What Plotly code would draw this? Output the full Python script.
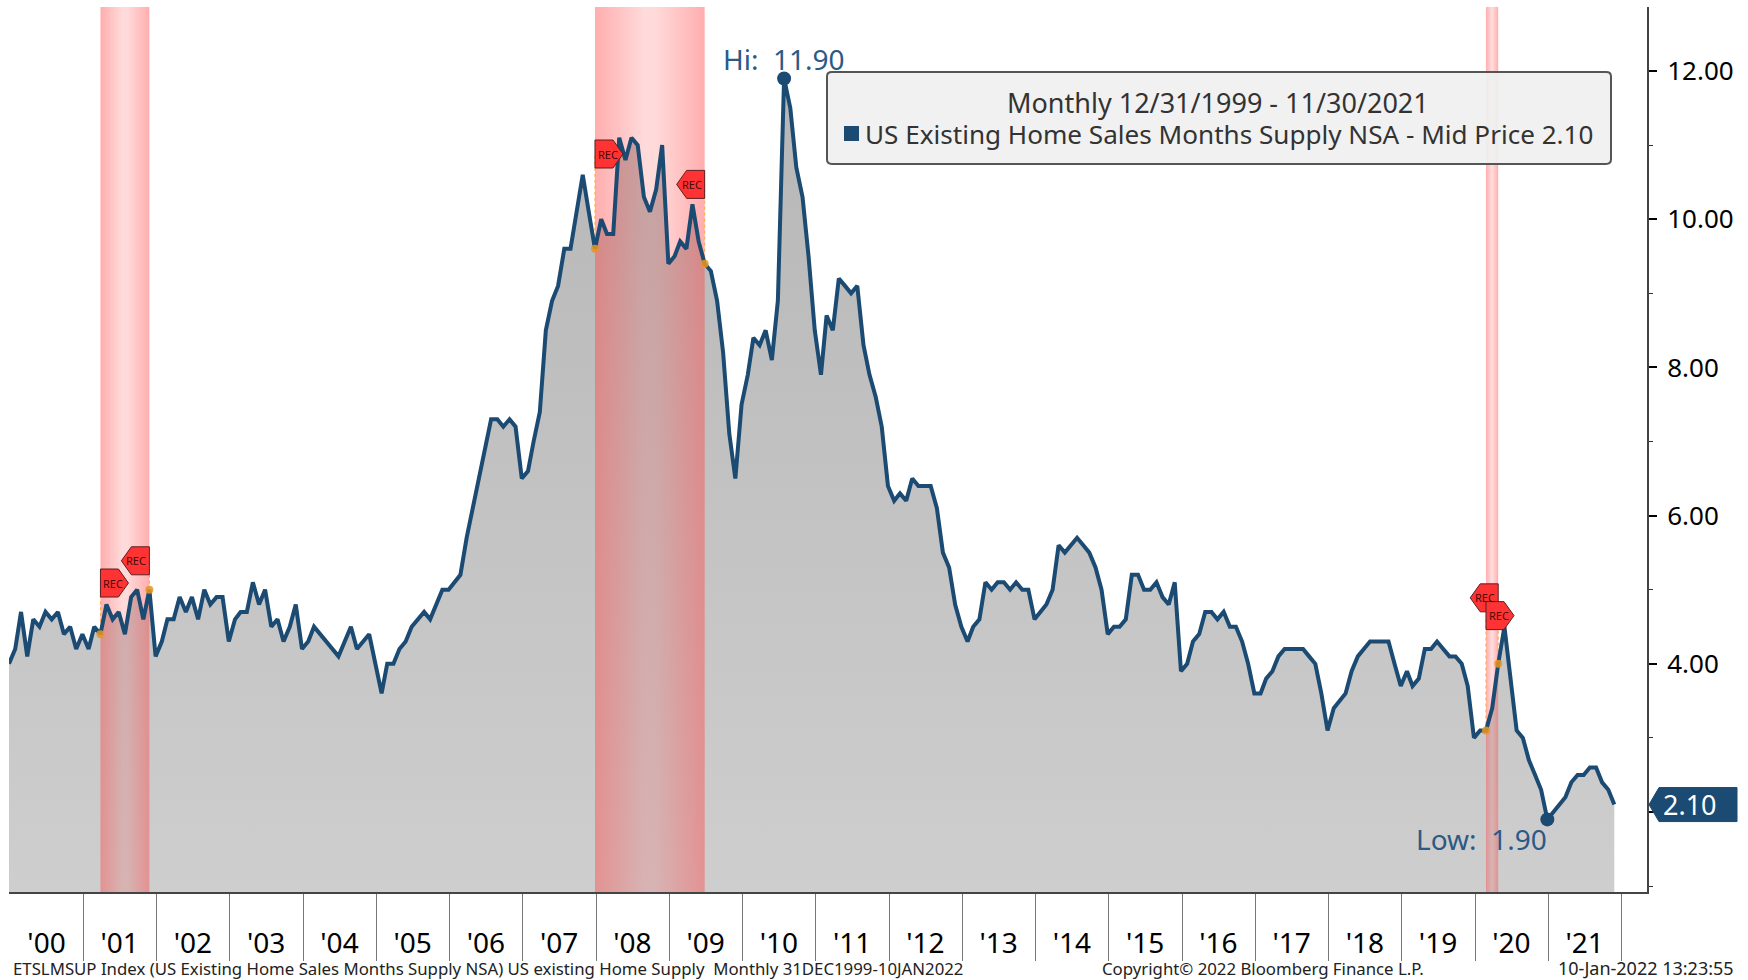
import pandas as pd
import plotly.graph_objects as go

# Months' supply, one list per calendar span (Dec 1999 .. Nov 2021)
V_1999_2000 = [4.0, 4.2, 4.7, 4.1, 4.6, 4.5, 4.7, 4.6, 4.7, 4.4, 4.5, 4.2, 4.4]
V_2001 = [4.2, 4.5, 4.4, 4.8, 4.6, 4.7, 4.4, 4.9, 5.0, 4.6, 5.0, 4.1]
V_2002 = [4.3, 4.6, 4.6, 4.9, 4.7, 4.9, 4.6, 5.0, 4.8, 4.9, 4.9, 4.3]
V_2003 = [4.6, 4.7, 4.7, 5.1, 4.8, 5.0, 4.5, 4.6, 4.3, 4.5, 4.8, 4.2]
V_2004 = [4.3, 4.5, 4.4, 4.3, 4.2, 4.1, 4.3, 4.5, 4.2, 4.3, 4.4, 4.0]
V_2005 = [3.6, 4.0, 4.0, 4.2, 4.3, 4.5, 4.6, 4.7, 4.6, 4.8, 5.0, 5.0]
V_2006 = [5.1, 5.2, 5.7, 6.1, 6.5, 6.9, 7.3, 7.3, 7.2, 7.3, 7.2, 6.5]
V_2007 = [6.6, 7.0, 7.4, 8.5, 8.9, 9.1, 9.6, 9.6, 10.1, 10.6, 10.1, 9.6]
V_2008 = [10.0, 9.8, 9.8, 11.1, 10.8, 11.1, 11.0, 10.3, 10.1, 10.4, 11.0, 9.4]
V_2009 = [9.5, 9.7, 9.6, 10.2, 9.7, 9.4, 9.3, 8.9, 8.2, 7.1, 6.5, 7.5]
V_2010 = [7.9, 8.4, 8.3, 8.5, 8.1, 8.9, 11.9, 11.5, 10.7, 10.3, 9.5, 8.5]
V_2011 = [7.9, 8.7, 8.5, 9.2, 9.1, 9.0, 9.1, 8.3, 7.9, 7.6, 7.2, 6.4]
V_2012 = [6.2, 6.3, 6.2, 6.5, 6.4, 6.4, 6.4, 6.1, 5.5, 5.3, 4.8, 4.5]
V_2013 = [4.3, 4.5, 4.6, 5.1, 5.0, 5.1, 5.1, 5.0, 5.1, 5.0, 5.0, 4.6]
V_2014 = [4.7, 4.8, 5.0, 5.6, 5.5, 5.6, 5.7, 5.6, 5.5, 5.3, 5.0, 4.4]
V_2015 = [4.5, 4.5, 4.6, 5.2, 5.2, 5.0, 5.0, 5.1, 4.9, 4.8, 5.1, 3.9]
V_2016 = [4.0, 4.3, 4.4, 4.7, 4.7, 4.6, 4.7, 4.5, 4.5, 4.3, 4.0, 3.6]
V_2017 = [3.6, 3.8, 3.9, 4.1, 4.2, 4.2, 4.2, 4.2, 4.1, 4.0, 3.6, 3.1]
V_2018 = [3.4, 3.5, 3.6, 3.9, 4.1, 4.2, 4.3, 4.3, 4.3, 4.3, 4.0, 3.7]
V_2019 = [3.9, 3.7, 3.8, 4.2, 4.2, 4.3, 4.2, 4.1, 4.1, 4.0, 3.7, 3.0]
V_2020 = [3.1, 3.1, 3.4, 4.0, 4.5, 3.8, 3.1, 3.0, 2.7, 2.5, 2.3, 1.9]
V_2021 = [2.0, 2.1, 2.2, 2.4, 2.5, 2.5, 2.6, 2.6, 2.4, 2.3, 2.1]

values = (V_1999_2000 + V_2001 + V_2002 + V_2003 + V_2004 + V_2005 + V_2006 + V_2007
          + V_2008 + V_2009 + V_2010 + V_2011 + V_2012 + V_2013 + V_2014 + V_2015
          + V_2016 + V_2017 + V_2018 + V_2019 + V_2020 + V_2021)
dates = pd.date_range("1999-12-31", periods=len(values), freq="ME")
series = pd.Series(values, index=dates)

year_labels = [f"'{y % 100:02d}" for y in range(2000, 2022)]
year_mids = [f"{y}-07-05" for y in range(2000, 2022)]
year_ends = [f"{y + 1}-01-06" for y in range(2000, 2022)]

rec_starts = ["2001-03-31", "2007-12-31", "2020-02-29"]
rec_ends = ["2001-11-30", "2009-06-30", "2020-04-30"]
rec_start_levels = [5.09, 10.88, 4.65]
rec_end_levels = [5.39, 10.47, 4.89]

y_ticks = [2, 4, 6, 8, 10, 12]
y_ticktext = ["", "4.00", "6.00", "8.00", "10.00", "12.00"]
y_minor = [1, 3, 5, 7, 9, 11]

X_RANGE = ["1999-12-31", "2022-05-12"]
Y_RANGE = [0.92, 12.864]

NAVY = "#1B4A72"
LABEL = "#2B5A86"
FONT = "Noto Sans"

W, H = 1748, 980
L, R, T, B = 9, 1647, 7, 892
def xp(px): return (px - L) / (R - L)
def yp(py): return (B - py) / (B - T)

fig = go.Figure()

# grey area with a soft vertical gradient
fig.add_trace(go.Scatter(
    x=dates, y=values, mode="none", fill="tozeroy", hoverinfo="skip", showlegend=False,
    fillgradient=dict(type="vertical", start=0, stop=12,
                      colorscale=[[0, "#D0D0D0"], [1, "#B6B6B6"]])))

# recession bands
edge, mid = "rgba(255,70,70,0.44)", "rgba(255,70,70,0.2)"
for s, e in zip(rec_starts, rec_ends):
    fig.add_trace(go.Scatter(
        x=[s, s, e, e, s], y=[Y_RANGE[0], Y_RANGE[1], Y_RANGE[1], Y_RANGE[0], Y_RANGE[0]],
        mode="lines", line=dict(width=0), fill="toself", hoverinfo="skip", showlegend=False,
        fillgradient=dict(type="horizontal",
                          colorscale=[[0, edge], [0.45, mid], [0.55, mid], [1, edge]])))

# dotted drops from flags
for d, lev in list(zip(rec_starts, rec_start_levels)) + list(zip(rec_ends, rec_end_levels)):
    fig.add_trace(go.Scatter(
        x=[d, d], y=[series[d], lev], mode="lines", hoverinfo="skip", showlegend=False,
        line=dict(color="#FFA733", width=1, dash="dot")))

# main line
fig.add_trace(go.Scatter(x=dates, y=values, mode="lines", showlegend=False,
                         name="US Existing Home Sales Months Supply NSA",
                         line=dict(color=NAVY, width=4)))

# orange recession points
rec_pts = rec_starts + rec_ends
fig.add_trace(go.Scatter(x=rec_pts, y=[series[d] for d in rec_pts], mode="markers",
                         hoverinfo="skip", showlegend=False,
                         marker=dict(color="rgba(232,150,30,0.85)", size=8)))

# hi / low markers
hi_d, lo_d = series.idxmax(), series.idxmin()
fig.add_trace(go.Scatter(x=[hi_d, lo_d], y=[series[hi_d], series[lo_d]], mode="markers",
                         hoverinfo="skip", showlegend=False,
                         marker=dict(color=NAVY, size=14)))

shapes = []
annots = []

# REC flags (end flags first: start flags sit on top)
RIGHT = "M 0 -14 L 18 -14 L 28 0 L 18 14 L 0 14 Z"
LEFT = "M 0 -14 L -18 -14 L -28 0 L -18 14 L 0 14 Z"
def flag(date, level, path, shift):
    shapes.append(dict(type="path", path=path, xref="x", yref="y", xsizemode="pixel",
                       ysizemode="pixel", xanchor=date, yanchor=level,
                       fillcolor="#FF3333", line=dict(color="#5A2020", width=1)))
    annots.append(dict(text="REC", x=date, y=level, xref="x", yref="y", xshift=shift,
                       xanchor="center", yanchor="middle",
                       showarrow=False, font=dict(family=FONT, size=11, color="#4A0A0A")))
for d, lev in zip(rec_ends, rec_end_levels):
    flag(d, lev, LEFT, -13)
for d, lev in zip(rec_starts, rec_start_levels):
    flag(d, lev, RIGHT, 13)

# last value tag
shapes.append(dict(type="path", path="M 2 0 L 12 -17 L 90 -17 L 90 17 L 12 17 Z",
                   xref="paper", yref="y", xsizemode="pixel", ysizemode="pixel",
                   xanchor=1, yanchor=values[-1], fillcolor=NAVY,
                   line=dict(color=NAVY, width=1)))
annots.append(dict(text=f"{values[-1]:.2f}", x=xp(1690), y=values[-1], xref="paper", yref="y",
                   xanchor="center", yanchor="middle",
                   showarrow=False, font=dict(family=FONT, size=27, color="white")))

# Hi / Low labels
annots.append(dict(text=f"Hi:\u00a0\u00a0{series[hi_d]:.2f}", x=hi_d, y=series[hi_d], xref="x", yref="y",
                   xanchor="center", yanchor="bottom", yshift=-2, showarrow=False,
                   font=dict(family=FONT, size=28, color=LABEL)))
annots.append(dict(text=f"Low:\u00a0\u00a0{series[lo_d]:.2f}", x=lo_d, y=series[lo_d], xref="x", yref="y",
                   xanchor="right", yanchor="top", yshift=1, xshift=2, showarrow=False,
                   font=dict(family=FONT, size=28, color=LABEL)))

# legend box
x0, x1, y0, y1 = xp(827), xp(1611), yp(164), yp(72)
r = 0.003
ry = 0.005
shapes.append(dict(type="path", xref="paper", yref="paper",
                   path=(f"M {x0 + r} {y0} L {x1 - r} {y0} Q {x1} {y0} {x1} {y0 + ry} "
                         f"L {x1} {y1 - ry} Q {x1} {y1} {x1 - r} {y1} L {x0 + r} {y1} "
                         f"Q {x0} {y1} {x0} {y1 - ry} L {x0} {y0 + ry} Q {x0} {y0} {x0 + r} {y0} Z"),
                   fillcolor="rgba(240,240,240,0.93)", line=dict(color="#555555", width=2)))
shapes.append(dict(type="rect", xref="paper", yref="paper", x0=xp(844), x1=xp(859),
                   y0=yp(141), y1=yp(126), fillcolor=NAVY, line=dict(width=0)))
annots.append(dict(text="Monthly\u00a012/31/1999\u00a0-\u00a011/30/2021", x=xp(1218), y=yp(103), xref="paper",
                   yref="paper", xanchor="center", yanchor="middle", showarrow=False,
                   font=dict(family=FONT, size=27, color="#333333")))
annots.append(dict(text=f"US Existing Home Sales Months Supply NSA - Mid Price {values[-1]:.2f}",
                   x=xp(863), y=yp(134), xref="paper", yref="paper", xanchor="left", yanchor="middle",
                   showarrow=False, font=dict(family=FONT, size=26.1, color="#333333")))

# footer
foot = dict(xref="paper", yref="paper", showarrow=False, yanchor="middle")
ff = dict(family=FONT, size=16.8, color="#222222")
annots.append(dict(text="ETSLMSUP Index (US Existing Home Sales Months Supply NSA) US existing Home Supply \u00a0Monthly 31DEC1999-10JAN2022",
                   x=xp(11), y=yp(968), xanchor="left", font=ff, **foot))
annots.append(dict(text="Copyright\u00a9 2022 Bloomberg Finance L.P.", x=xp(1100), y=yp(968),
                   xanchor="left", font=ff, **foot))
annots.append(dict(text="10-Jan-2022 13:23:55", x=xp(1736), y=yp(968), xanchor="right",
                   font=dict(family=FONT, size=18, color="#222222"), **foot))

fig.update_layout(
    width=W, height=H, autosize=False, plot_bgcolor="white", paper_bgcolor="white",
    margin=dict(l=L, r=W - R, t=T, b=H - B, pad=0), showlegend=False,
    shapes=shapes, annotations=annots, font=dict(family=FONT),
    xaxis=dict(type="date", range=X_RANGE, showgrid=False, zeroline=False,
               showline=True, linecolor="#444444", linewidth=2,
               tickmode="array", tickvals=year_mids, ticktext=year_labels, ticks="",
               ticklabelstandoff=25, tickfont=dict(family=FONT, size=28, color="black"),
               minor=dict(tickmode="array", tickvals=year_ends, ticks="outside", ticklen=67,
                          tickwidth=1, tickcolor="#777777", showgrid=False)),
    yaxis=dict(side="right", range=Y_RANGE, showgrid=False, zeroline=False,
               showline=True, linecolor="#444444", linewidth=2,
               tickmode="array", tickvals=y_ticks, ticktext=y_ticktext, ticks="outside",
               ticklen=8, tickwidth=2, tickcolor="black", ticklabelstandoff=5,
               tickfont=dict(family=FONT, size=26, color="black"),
               minor=dict(tickmode="array", tickvals=y_minor, ticks="outside", ticklen=4,
                          tickwidth=1, tickcolor="#333333", showgrid=False)),
)

fig.write_html("out.html", config=dict(displayModeBar=False),
               post_script="document.body.style.margin='0';")
